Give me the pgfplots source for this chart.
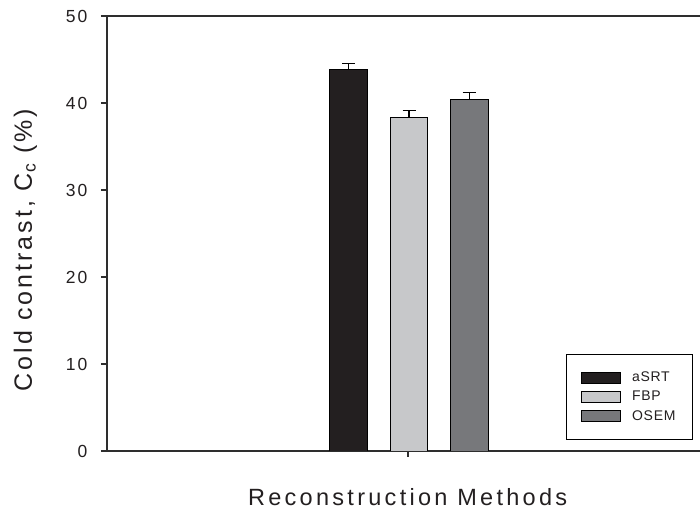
\documentclass[border=0pt]{standalone}
\usepackage{pgfplots}
\pgfplotsset{compat=1.18}
\usepackage{fontspec}
\setmainfont{Liberation Sans}
\newfontfamily\labfont[LetterSpace=12]{Liberation Sans}
\newfontfamily\xlabfont[LetterSpace=14]{Liberation Sans}
\newfontfamily\tickfont[LetterSpace=12]{Liberation Sans}
\newfontfamily\legfont[LetterSpace=5]{Liberation Sans}
\definecolor{cA}{HTML}{231F20}
\definecolor{cF}{HTML}{C7C8CA}
\definecolor{cO}{HTML}{77787B}
\definecolor{axc}{HTML}{2E2E2E}
\definecolor{txt}{HTML}{231F20}
\pgfplotsset{mylegimg/.style={legend image code/.code={\draw[##1, line width=0.8pt] (0pt,-5.5pt) rectangle (39pt,5.5pt);}}}
\begin{document}
\begin{tikzpicture}
\begin{axis}[
  scale only axis, width=593pt, height=435pt,
  xmin=107, xmax=700, ymin=0, ymax=50,
  axis x line*=box, axis y line*=left,
  axis line style={axc, line width=1.1pt},
  ytick={0,10,...,50},
  xtick={408}, xticklabels={},
  xtick pos=left, ytick pos=left,
  tick align=outside, major tick length=6pt,
  tick style={axc, line width=1.1pt},
  /pgf/number format/assume math mode=true,
  yticklabel={\textcolor{txt}{\tickfont\fontsize{17.5}{19}\selectfont\pgfmathprintnumber{\tick}\kern10pt}},
  every axis y label/.style={at={(axis description cs:-0.1265,0.462)}, anchor=base, rotate=90, font=\labfont\fontsize{25}{28}\selectfont, text=txt},
  every axis x label/.style={at={(axis description cs:0.507,0)}, anchor=base, yshift=-54pt, font=\xlabfont\fontsize{23.5}{26}\selectfont, text=txt},
  ylabel={Cold contrast, C\textsubscript{c} (\%)},
  xlabel={Reconstruction Methods},
  legend style={at={(axis description cs:0.988,0.025)}, anchor=south east, draw=black, line width=0.8pt, inner xsep=15pt, inner ysep=16pt, font=\legfont\fontsize{14}{16}\selectfont, text=txt, row sep=4pt, column sep=9pt, cells={anchor=west}},
  error bars/error bar style={line width=1.2pt, black},
  error bars/error mark options={rotate=90, mark size=6.5pt, line width=1.2pt, black},
]
\addplot[ybar, mylegimg, bar width=37.5pt, bar shift=0pt, fill=cA, draw=black, line width=0.8pt,
  error bars/.cd, y dir=plus, y explicit] coordinates {(348.5,43.9) +- (0,0.65)};
\addlegendentry{aSRT}
\addplot[ybar, mylegimg, bar width=37.5pt, bar shift=0pt, fill=cF, draw=black, line width=0.8pt,
  error bars/.cd, y dir=plus, y explicit] coordinates {(409,38.4) +- (0,0.75)};
\addlegendentry{FBP}
\addplot[ybar, mylegimg, bar width=37.5pt, bar shift=0pt, fill=cO, draw=black, line width=0.8pt,
  error bars/.cd, y dir=plus, y explicit] coordinates {(469.2,40.45) +- (0,0.8)};
\addlegendentry{OSEM}
\coordinate (SW) at (rel axis cs:0,0);
\coordinate (NE) at (rel axis cs:1,1);
\end{axis}
\pgfresetboundingbox
\path ([shift={(-107pt,-59pt)}]SW) rectangle ([shift={(0pt,16pt)}]NE);
\end{tikzpicture}
\end{document}
